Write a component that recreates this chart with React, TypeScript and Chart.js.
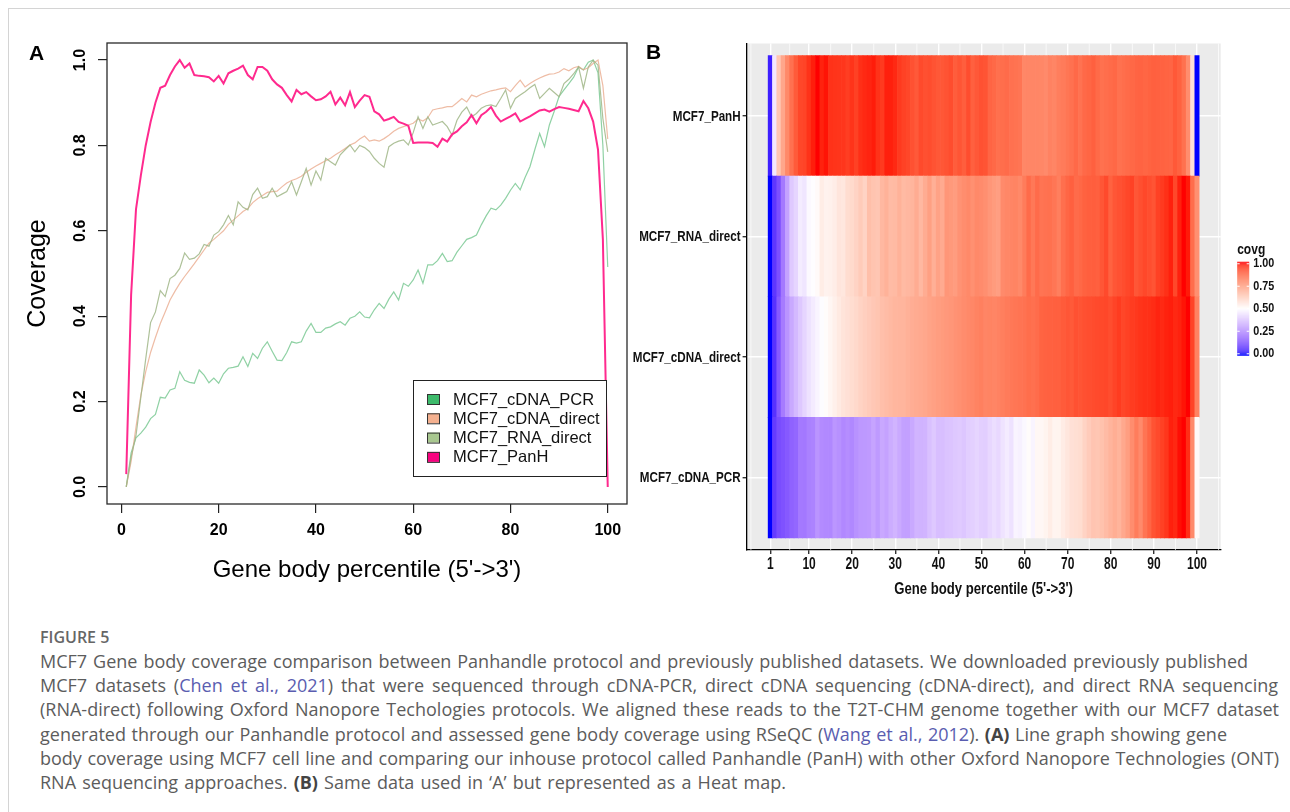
import React, { useEffect, useRef } from "react";
import { Chart, registerables } from "chart.js";

Chart.register(...registerables);

// ---------------- data ----------------
const PERCENTILES = [
  1, 2, 3, 4, 5, 6, 7, 8, 9, 10, 11, 12, 13, 14, 15, 16, 17, 18, 19, 20,
  21, 22, 23, 24, 25, 26, 27, 28, 29, 30, 31, 32, 33, 34, 35, 36, 37, 38, 39, 40,
  41, 42, 43, 44, 45, 46, 47, 48, 49, 50, 51, 52, 53, 54, 55, 56, 57, 58, 59, 60,
  61, 62, 63, 64, 65, 66, 67, 68, 69, 70, 71, 72, 73, 74, 75, 76, 77, 78, 79, 80,
  81, 82, 83, 84, 85, 86, 87, 88, 89, 90, 91, 92, 93, 94, 95, 96, 97, 98, 99, 100,
];

const MCF7_PANH = [
  0.03, 0.45, 0.65, 0.73, 0.8, 0.855, 0.9, 0.935, 0.94, 0.965,
  0.985, 1.0, 0.982, 0.992, 0.965, 0.963, 0.962, 0.96, 0.95, 0.963,
  0.945, 0.969, 0.975, 0.98, 0.987, 0.965, 0.955, 0.984, 0.984, 0.975,
  0.955, 0.943, 0.935, 0.918, 0.903, 0.93, 0.92, 0.925, 0.915, 0.906,
  0.908, 0.915, 0.926, 0.896, 0.912, 0.894, 0.925, 0.89, 0.905, 0.918,
  0.914, 0.88, 0.873, 0.858, 0.862, 0.867, 0.855, 0.851, 0.846, 0.806,
  0.807, 0.807, 0.807, 0.806, 0.797, 0.816, 0.809, 0.826, 0.833, 0.845,
  0.854, 0.871, 0.852, 0.871, 0.879, 0.89, 0.87, 0.856, 0.862, 0.868,
  0.875, 0.856, 0.862, 0.868, 0.875, 0.882, 0.884, 0.879, 0.885, 0.89,
  0.888, 0.886, 0.883, 0.88, 0.904, 0.887, 0.856, 0.79, 0.58, 0.0,
];

const MCF7_RNA_DIRECT = [
  0.0, 0.07, 0.12, 0.21, 0.3, 0.385, 0.41, 0.46, 0.446, 0.488,
  0.496, 0.512, 0.548, 0.533, 0.536, 0.546, 0.568, 0.564, 0.59, 0.598,
  0.614, 0.636, 0.614, 0.668, 0.655, 0.649, 0.685, 0.7, 0.676, 0.68,
  0.7, 0.68, 0.686, 0.692, 0.715, 0.684, 0.715, 0.746, 0.707, 0.74,
  0.719, 0.77, 0.762, 0.754, 0.778, 0.79, 0.801, 0.785, 0.8, 0.795,
  0.786, 0.77, 0.758, 0.749, 0.797, 0.805, 0.81, 0.813, 0.801, 0.83,
  0.867, 0.84, 0.867, 0.848, 0.852, 0.856, 0.844, 0.824, 0.859, 0.878,
  0.89, 0.867, 0.875, 0.887, 0.893, 0.895, 0.891, 0.91, 0.93, 0.887,
  0.91, 0.918, 0.926, 0.935, 0.943, 0.91, 0.922, 0.934, 0.924, 0.914,
  0.945, 0.955, 0.968, 0.984, 0.934, 0.984, 1.0, 0.988, 0.863, 0.785,
];

const MCF7_CDNA_DIRECT = [
  0.0, 0.06, 0.14, 0.215, 0.27, 0.315, 0.35, 0.383, 0.41, 0.438,
  0.458, 0.477, 0.493, 0.508, 0.523, 0.539, 0.555, 0.571, 0.58, 0.59,
  0.6, 0.615, 0.625, 0.635, 0.645, 0.652, 0.666, 0.675, 0.683, 0.69,
  0.692, 0.693, 0.703, 0.712, 0.718, 0.722, 0.728, 0.737, 0.745, 0.752,
  0.758, 0.764, 0.77, 0.778, 0.785, 0.793, 0.801, 0.806, 0.815, 0.822,
  0.81, 0.813, 0.81, 0.816, 0.824, 0.833, 0.84, 0.844, 0.848, 0.852,
  0.862, 0.857, 0.865, 0.883, 0.886, 0.888, 0.891, 0.891, 0.9, 0.91,
  0.902, 0.918, 0.914, 0.92, 0.924, 0.928, 0.93, 0.933, 0.935, 0.926,
  0.94, 0.953, 0.937, 0.945, 0.952, 0.958, 0.963, 0.967, 0.968, 0.972,
  0.98, 0.975, 0.982, 0.985, 0.977, 0.982, 0.992, 1.0, 0.94, 0.815,
];

const MCF7_CDNA_PCR = [
  0.0, 0.08, 0.115, 0.126, 0.14, 0.16, 0.17, 0.21, 0.208, 0.227,
  0.231, 0.27, 0.25, 0.245, 0.243, 0.274, 0.262, 0.244, 0.255, 0.243,
  0.265, 0.278, 0.28, 0.283, 0.305, 0.282, 0.313, 0.301, 0.325, 0.34,
  0.318, 0.297, 0.296, 0.315, 0.34, 0.337, 0.34, 0.365, 0.383, 0.362,
  0.362, 0.372, 0.375, 0.382, 0.387, 0.379, 0.395, 0.4, 0.41, 0.398,
  0.396, 0.415, 0.43, 0.418, 0.44, 0.457, 0.438, 0.477, 0.47, 0.485,
  0.508, 0.477, 0.52, 0.52, 0.53, 0.547, 0.528, 0.53, 0.55, 0.565,
  0.58, 0.584, 0.59, 0.614, 0.635, 0.653, 0.649, 0.66, 0.676, 0.695,
  0.711, 0.696, 0.725, 0.75, 0.79, 0.828, 0.797, 0.848, 0.88, 0.915,
  0.93, 0.945, 0.96, 0.984, 0.977, 0.995, 1.0, 0.97, 0.8, 0.515,
];

const SAMPLE_NAMES = ["MCF7_cDNA_PCR", "MCF7_cDNA_direct", "MCF7_RNA_direct", "MCF7_PanH"];
const SAMPLE_VALUES = [MCF7_CDNA_PCR, MCF7_CDNA_DIRECT, MCF7_RNA_DIRECT, MCF7_PANH];
const LINE_COLORS = ["rgba(95,190,125,0.7)", "rgba(232,165,135,0.75)", "rgba(160,182,135,0.85)", "#ff2a8e"];
const LEGEND_COLORS = ["#3dba6b", "#f4b08f", "#a8c78f", "#f7027f"];

const LINE_X_TICKS = [0, 20, 40, 60, 80, 100];
const LINE_Y_TICKS = [0, 0.2, 0.4, 0.6, 0.8, 1.0];

// heat map rows, bottom to top
const HEAT_ROWS = ["MCF7_cDNA_PCR", "MCF7_cDNA_direct", "MCF7_RNA_direct", "MCF7_PanH"];
const HEAT_ROW_POS = [1, 2, 3, 4];
const HEAT_X_TICKS = [1, 10, 20, 30, 40, 50, 60, 70, 80, 90, 100];
const HEAT_X_MINOR = [-3.5, 5.5, 15, 25, 35, 45, 55, 65, 75, 85, 95, 105];
const COVG_TICKS = [0, 0.25, 0.5, 0.75, 1.0];

const X_TITLE = "Gene body percentile (5'->3')";

// ---------------- fonts & colours ----------------
const R_FONT = "'Liberation Sans', Arial, Helvetica, sans-serif";

function toLin(c: number) {
  c /= 255;
  return c <= 0.04045 ? c / 12.92 : Math.pow((c + 0.055) / 1.055, 2.4);
}
function fromLin(c: number) {
  const v = c <= 0.0031308 ? 12.92 * c : 1.055 * Math.pow(c, 1 / 2.4) - 0.055;
  return Math.round(Math.max(0, Math.min(1, v)) * 255);
}
function rgbToLab(rgb: number[]) {
  const R = toLin(rgb[0]), G = toLin(rgb[1]), B = toLin(rgb[2]);
  const X = (0.4124 * R + 0.3576 * G + 0.1805 * B) / 0.95047;
  const Y = 0.2126 * R + 0.7152 * G + 0.0722 * B;
  const Z = (0.0193 * R + 0.1192 * G + 0.9505 * B) / 1.08883;
  const f = (t: number) => (t > 0.008856 ? Math.cbrt(t) : 7.787 * t + 16 / 116);
  const fx = f(X), fy = f(Y), fz = f(Z);
  return [116 * fy - 16, 500 * (fx - fy), 200 * (fy - fz)];
}
function labToRgb(lab: number[]) {
  const fy = (lab[0] + 16) / 116, fx = fy + lab[1] / 500, fz = fy - lab[2] / 200;
  const inv = (t: number) => (t * t * t > 0.008856 ? t * t * t : (t - 16 / 116) / 7.787);
  const X = inv(fx) * 0.95047, Y = inv(fy), Z = inv(fz) * 1.08883;
  const R = 3.2406 * X - 1.5372 * Y - 0.4986 * Z;
  const G = -0.9689 * X + 1.8758 * Y + 0.0415 * Z;
  const B = 0.0557 * X - 0.204 * Y + 1.057 * Z;
  return [fromLin(R), fromLin(G), fromLin(B)];
}
const LAB_LOW = rgbToLab([0, 0, 255]);
const LAB_MID = rgbToLab([255, 255, 255]);
const LAB_HIGH = rgbToLab([255, 0, 0]);
function covgColor(v: number) {
  const t = Math.max(0, Math.min(1, v));
  let a, b, u;
  if (t < 0.5) { a = LAB_LOW; b = LAB_MID; u = t / 0.5; }
  else { a = LAB_MID; b = LAB_HIGH; u = (t - 0.5) / 0.5; }
  const lab = [0, 1, 2].map((k) => a[k] + (b[k] - a[k]) * u);
  const c = labToRgb(lab);
  return `rgb(${c[0]},${c[1]},${c[2]})`;
}

// narrow text (imitates ggplot's Helvetica Narrow Bold)
function narrowText(ctx: any, text: string, x: number, y: number, font: string, align: string, baseline: string, squeeze: number) {
  ctx.save();
  ctx.font = font;
  ctx.textAlign = align;
  ctx.textBaseline = baseline;
  ctx.translate(x, y);
  ctx.scale(squeeze, 1);
  ctx.fillText(text, 0, 0);
  ctx.restore();
}

// ---------------- plugins ----------------
const rBoxPlugin = {
  id: "rBox",
  afterDatasetsDraw(chart: any) {
    const { ctx, chartArea: ca } = chart;
    ctx.save();
    ctx.strokeStyle = "#2a2a2a";
    ctx.lineWidth = 1.3;
    ctx.strokeRect(ca.left, ca.top, ca.right - ca.left, ca.bottom - ca.top);
    // legend
    const right = ca.right - 21, bottom = ca.bottom - 28;
    const w = 193, h = 96;
    const left = right - w, top = bottom - h;
    ctx.fillStyle = "#ffffff";
    ctx.fillRect(left, top, w, h);
    ctx.lineWidth = 1;
    ctx.strokeStyle = "#222";
    ctx.strokeRect(left + 0.5, top + 0.5, w, h);
    ctx.font = `16.5px ${R_FONT}`;
    ctx.textBaseline = "middle";
    ctx.textAlign = "left";
    SAMPLE_NAMES.forEach((name, i) => {
      const cy = top + 19 + i * 19.3;
      ctx.fillStyle = LEGEND_COLORS[i];
      ctx.fillRect(left + 14, cy - 5, 13, 10);
      ctx.strokeStyle = "#333";
      ctx.strokeRect(left + 14.5, cy - 4.5, 12, 10);
      ctx.fillStyle = "#111";
      ctx.fillText(name, left + 40, cy + 1);
    });
    ctx.restore();
  },
};

const ggPanelPlugin = {
  id: "ggPanel",
  beforeDraw(chart: any) {
    const { ctx, chartArea: ca } = chart;
    ctx.save();
    ctx.fillStyle = "#EBEBEB";
    ctx.fillRect(ca.left, ca.top, ca.right - ca.left, ca.bottom - ca.top);
    ctx.restore();
  },
  beforeDatasetsDraw(chart: any) {
    const { ctx, chartArea: ca, scales } = chart;
    ctx.save();
    ctx.strokeStyle = "#ffffff";
    ctx.lineWidth = 0.7;
    HEAT_X_MINOR.forEach((v) => {
      const x = scales.x.getPixelForValue(v);
      ctx.beginPath();
      ctx.moveTo(x, ca.top);
      ctx.lineTo(x, ca.bottom);
      ctx.stroke();
    });
    ctx.restore();
  },
  afterDraw(chart: any) {
    const { ctx, chartArea: ca, scales } = chart;
    ctx.save();
    ctx.fillStyle = "#111";
    scales.y.ticks.forEach((t: any) => {
      const name = HEAT_ROWS[HEAT_ROW_POS.indexOf(t.value)];
      if (name) narrowText(ctx, name, ca.left - 6, scales.y.getPixelForValue(t.value) + 0.5, `bold 15.5px ${R_FONT}`, "right", "middle", 0.75);
    });
    scales.x.ticks.forEach((t: any) => {
      narrowText(ctx, String(t.value), scales.x.getPixelForValue(t.value), ca.bottom + 15, `bold 16px ${R_FONT}`, "center", "middle", 0.75);
    });
    narrowText(ctx, X_TITLE, (ca.left + ca.right) / 2, ca.bottom + 40, `bold 16px ${R_FONT}`, "center", "middle", 0.82);

    // colour bar legend
    const midY = (ca.top + ca.bottom) / 2;
    const barLeft = ca.right + 16.5;
    const barW = 12;
    const barTop = midY - 35;
    const barH = 94;
    const y0 = barTop + barH - 2; // value 0
    const y1 = barTop + 2; // value 1
    for (let py = barTop; py < barTop + barH; py += 1) {
      const v = (y0 - (py + 0.5)) / (y0 - y1);
      ctx.fillStyle = covgColor(v);
      ctx.fillRect(barLeft, py, barW, 1);
    }
    ctx.strokeStyle = "#ffffff";
    ctx.lineWidth = 1;
    COVG_TICKS.forEach((v) => {
      const y = y0 - v * (y0 - y1);
      ctx.beginPath();
      ctx.moveTo(barLeft, y);
      ctx.lineTo(barLeft + 2.5, y);
      ctx.moveTo(barLeft + barW - 2.5, y);
      ctx.lineTo(barLeft + barW, y);
      ctx.stroke();
    });
    ctx.fillStyle = "#111";
    COVG_TICKS.forEach((v) => {
      const y = y0 - v * (y0 - y1);
      narrowText(ctx, v.toFixed(2), barLeft + barW + 4, y, `bold 13.5px ${R_FONT}`, "left", "middle", 0.8);
    });
    narrowText(ctx, "covg", barLeft, barTop - 8, `bold 15px ${R_FONT}`, "left", "alphabetic", 0.8);
    ctx.restore();
  },
};

// ---------------- component ----------------
export default function App() {
  const lineRef = useRef<HTMLCanvasElement>(null);
  const heatRef = useRef<HTMLCanvasElement>(null);

  useEffect(() => {
    const lineDatasets = SAMPLE_NAMES.map((name, i) => ({
      label: name,
      data: PERCENTILES.map((p, k) => ({ x: p, y: SAMPLE_VALUES[i][k] })),
      borderColor: LINE_COLORS[i],
      borderWidth: name === "MCF7_PanH" ? 2 : 1.2,
      pointRadius: 0,
      tension: 0,
      fill: false,
      order: name === "MCF7_PanH" ? 0 : 4 - i,
    }));

    const lineChart = new Chart(lineRef.current as HTMLCanvasElement, {
      type: "line",
      data: { datasets: lineDatasets as any },
      options: {
        animation: false,
        responsive: false,
        layout: { padding: { left: 0, top: 43, right: 13, bottom: 0 } },
        plugins: { legend: { display: false }, tooltip: { enabled: false } },
        scales: {
          x: {
            type: "linear",
            min: -2.96,
            max: 103.96,
            afterBuildTicks: (s: any) => {
              s.ticks = LINE_X_TICKS.map((v) => ({ value: v }));
            },
            afterFit: (s: any) => {
              s.height = 96;
            },
            border: { display: false },
            grid: { drawOnChartArea: false, drawTicks: true, tickLength: 9, color: "#222", lineWidth: 1.2 },
            ticks: {
              autoSkip: false,
              maxRotation: 0,
              padding: 8,
              color: "#000",
              font: { family: R_FONT, size: 16, weight: "bold" },
              callback: (v: any) => String(v),
            },
            title: {
              display: true,
              text: X_TITLE,
              color: "#000",
              font: { family: R_FONT, size: 24 },
              padding: { top: 0, bottom: 15.6 },
            },
          },
          y: {
            type: "linear",
            min: -0.04,
            max: 1.04,
            afterBuildTicks: (s: any) => {
              s.ticks = LINE_Y_TICKS.map((v) => ({ value: v }));
            },
            afterFit: (s: any) => {
              s.width = 107;
            },
            border: { display: false },
            grid: { drawOnChartArea: false, drawTicks: true, tickLength: 9, color: "#222", lineWidth: 1.2 },
            ticks: {
              autoSkip: false,
              minRotation: 90,
              maxRotation: 90,
              crossAlign: "center",
              padding: 6,
              color: "#000",
              font: { family: R_FONT, size: 16, weight: "bold" },
              callback: (v: any) => Number(v).toFixed(1),
            },
            title: {
              display: true,
              text: "Coverage",
              color: "#000",
              font: { family: R_FONT, size: 25 },
              padding: { top: 23, bottom: 0 },
            },
          },
        },
      } as any,
      plugins: [rBoxPlugin],
    });

    const heatDatasets = HEAT_ROWS.map((row, ri) => {
      const vals = SAMPLE_VALUES[SAMPLE_NAMES.indexOf(row)];
      return {
        label: row,
        data: PERCENTILES.map((p) => ({ y: HEAT_ROW_POS[ri], x: [p - 0.5, p + 0.5] })),
        backgroundColor: vals.map((v) => covgColor(v)),
        borderWidth: 0,
        grouped: false,
        categoryPercentage: 1,
        barPercentage: 1,
      };
    });

    const heatChart = new Chart(heatRef.current as HTMLCanvasElement, {
      type: "bar",
      data: { datasets: heatDatasets as any },
      options: {
        animation: false,
        responsive: false,
        indexAxis: "y",
        layout: { padding: { left: 0, top: 43.5, right: 69.3, bottom: 0 } },
        plugins: { legend: { display: false }, tooltip: { enabled: false } },
        scales: {
          x: {
            type: "linear",
            min: -4.5,
            max: 105.5,
            offset: false,
            afterBuildTicks: (s: any) => {
              s.ticks = HEAT_X_TICKS.map((v) => ({ value: v }));
            },
            afterFit: (s: any) => {
              s.height = 62;
            },
            border: { display: true, color: "#000", width: 1.3 },
            grid: { color: "#ffffff", lineWidth: 1.4, drawTicks: true, tickLength: 4, tickColor: "#333", offset: false },
            ticks: { display: false, autoSkip: false },
            title: { display: false },
          },
          y: {
            type: "linear",
            min: 0.4,
            max: 4.6,
            offset: false,
            afterBuildTicks: (s: any) => {
              s.ticks = HEAT_ROW_POS.map((v) => ({ value: v }));
            },
            afterFit: (s: any) => {
              s.width = 116.6;
            },
            border: { display: true, color: "#000", width: 1.3 },
            grid: { color: "#ffffff", lineWidth: 1.4, drawTicks: true, tickLength: 4, tickColor: "#333", offset: false },
            ticks: { display: false, autoSkip: false },
          },
        },
      } as any,
      plugins: [ggPanelPlugin],
    });

    return () => {
      lineChart.destroy();
      heatChart.destroy();
    };
  }, []);

  const capFont = "'Open Sans', 'Noto Sans', sans-serif";
  const link = { color: "#5a5db0" };
  const bold = { fontWeight: 700, color: "#444" };
  const just = (w: number) => ({ width: w, textAlign: "justify" as const, textAlignLast: "justify" as const });

  return (
    <div style={{ position: "fixed", left: 0, top: 0, width: 1290, height: 812, background: "#fff", overflow: "hidden" }}>
      <div style={{ position: "absolute", left: 8, top: 8, width: 1290, height: 812, borderTop: "1px solid #d4d4d4", borderLeft: "1px solid #d4d4d4" }} />
      <canvas ref={lineRef} width={640} height={600} style={{ position: "absolute", left: 0, top: 0, width: 640, height: 600 }} />
      <canvas ref={heatRef} width={660} height={612} style={{ position: "absolute", left: 630, top: 0, width: 660, height: 612 }} />
      <div style={{ position: "absolute", left: 29, top: 42, fontFamily: R_FONT, fontWeight: 700, fontSize: 21, lineHeight: "21px", color: "#000" }}>A</div>
      <div style={{ position: "absolute", left: 646, top: 41, fontFamily: R_FONT, fontWeight: 700, fontSize: 21, lineHeight: "21px", color: "#000" }}>B</div>
      <div style={{ position: "absolute", left: 40, top: 625, fontFamily: capFont, color: "#5c5c5c" }}>
        <div style={{ fontSize: 16, fontWeight: 600, lineHeight: "24px", color: "#666" }}>FIGURE 5</div>
        <div style={{ fontSize: 18, lineHeight: "24.2px" }}>
          <div style={just(1208)}>
            MCF7 Gene body coverage comparison between Panhandle protocol and previously published datasets. We downloaded previously published
          </div>
          <div style={just(1238)}>
            MCF7 datasets (<span style={link}>Chen et al., 2021</span>) that were sequenced through cDNA-PCR, direct cDNA sequencing (cDNA-direct), and direct RNA sequencing
          </div>
          <div style={just(1239)}>
            (RNA-direct) following Oxford Nanopore Techologies protocols. We aligned these reads to the T2T-CHM genome together with our MCF7 dataset
          </div>
          <div style={just(1187)}>
            generated through our Panhandle protocol and assessed gene body coverage using RSeQC (<span style={link}>Wang et al., 2012</span>). <span style={bold}>(A)</span> Line graph showing gene
          </div>
          <div style={just(1239)}>
            body coverage using MCF7 cell line and comparing our inhouse protocol called Panhandle (PanH) with other Oxford Nanopore Technologies (ONT)
          </div>
          <div style={just(746)}>
            RNA sequencing approaches. <span style={bold}>(B)</span> Same data used in ‘A’ but represented as a Heat map.
          </div>
        </div>
      </div>
    </div>
  );
}
